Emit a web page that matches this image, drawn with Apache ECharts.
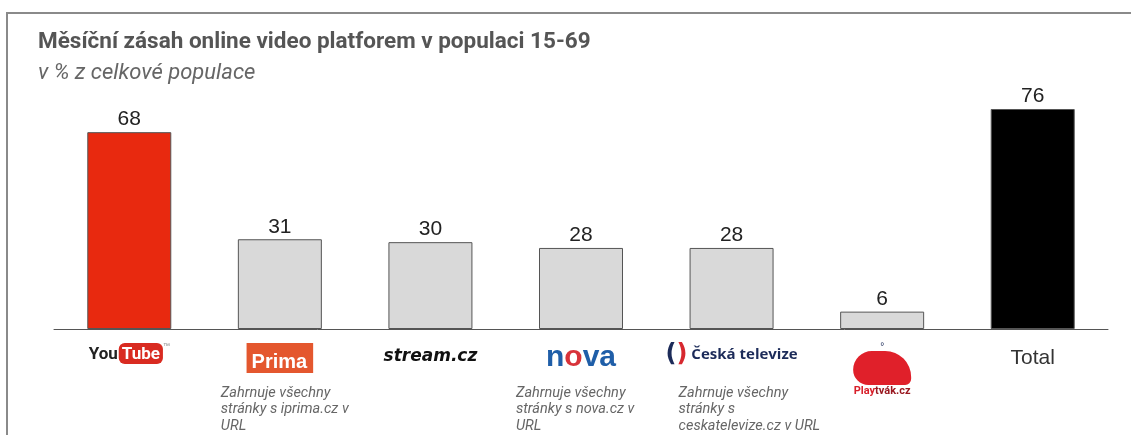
<!DOCTYPE html>
<html>
<head>
<meta charset="utf-8">
<script src="https://cdn.jsdelivr.net/npm/echarts@6/dist/echarts.min.js"></script>
<style>
  html, body { margin: 0; padding: 0; background: #fff; }
  #chart { width: 1131px; height: 435px; }
</style>
</head>
<body>
<div id="chart"></div>
<script>
// monthly reach of online video platforms, % of population 15-69
var categories = ['YouTube', 'Prima', 'stream.cz', 'nova', 'Česká televize', 'Playtvák.cz', 'Total'];
var reach = [68, 31, 30, 28, 28, 6, 76];
var notes = [
    '',
    'Zahrnuje všechny\nstránky s iprima.cz v\nURL',
    '',
    'Zahrnuje všechny\nstránky s nova.cz v\nURL',
    'Zahrnuje všechny\nstránky s\nceskatelevize.cz v URL',
    '',
    ''
];
var barColors = ['#e8290f', '#d9d9d9', '#d9d9d9', '#d9d9d9', '#d9d9d9', '#d9d9d9', '#000000'];
var noteShift = [0, -59, 0, -65, -53, 0, 0];

var chart = echarts.init(document.getElementById('chart'));

function logoLabel(value) {
    switch (value) {
        case 'YouTube': return '{you|You}{tube|Tube}{tm|™}';
        case 'Prima': return '{prima|Prima}';
        case 'stream.cz': return '{stream|stream.cz}';
        case 'nova': return '{nova|n}{ball|o}{nova|va}';
        case 'Česká televize': return '{ctl|(}{ctr|)}{ct| Česká televize}';
        case 'Playtvák.cz': return '{spout|°}\n{whale| }\n{play|Play}{tvak|tvák.cz}';
        default: return '{total|' + value + '}';
    }
}

var option = {
    animation: false,
    title: {
        text: 'Měsíční zásah online video platforem v populaci 15-69',
        subtext: 'v % z celkové populace',
        left: 33,
        top: 26,
        itemGap: 8,
        textStyle: {
            fontFamily: 'Roboto',
            fontWeight: 'bold',
            fontSize: 22.5,
            color: '#555'
        },
        subtextStyle: {
            fontFamily: 'Roboto',
            fontStyle: 'italic',
            fontSize: 22,
            color: '#666'
        }
    },
    grid: {
        left: 54,
        right: 23,
        top: 109,
        bottom: 106
    },
    xAxis: {
        type: 'category',
        data: categories,
        axisLine: { lineStyle: { color: '#555', width: 1 } },
        axisTick: { show: false },
        axisLabel: {
            interval: 0,
            margin: 14,
            verticalAlign: 'top',
            formatter: logoLabel,
            rich: {
                you: { fontFamily: 'Roboto', fontWeight: 'bold', fontSize: 17, color: '#222', padding: [3, 1, 0, 0] },
                tube: {
                    fontFamily: 'Roboto', fontWeight: 'bold', fontSize: 17, color: '#fff',
                    backgroundColor: '#d92b21', borderRadius: 6, padding: [3, 3, 1, 3]
                },
                tm: { fontSize: 7, color: '#888', verticalAlign: 'top' },
                prima: {
                    fontFamily: 'Liberation Sans', fontWeight: 'bold', fontSize: 20, color: '#fff',
                    backgroundColor: '#e4572e', padding: [9, 6, 1, 5]
                },
                stream: { fontFamily: 'DejaVu Sans', fontWeight: 'bold', fontStyle: 'italic', fontSize: 17, color: '#111', padding: [5, 0, 0, 0] },
                nova: { fontFamily: 'Liberation Sans', fontWeight: 'bold', fontSize: 30, color: '#1f5ea8' },
                ball: { fontFamily: 'Liberation Sans', fontWeight: 'bold', fontSize: 30, color: '#d8333a' },
                ctl: { fontFamily: 'DejaVu Sans', fontWeight: 'bold', fontSize: 24, color: '#1c2b59' },
                ctr: { fontFamily: 'DejaVu Sans', fontWeight: 'bold', fontSize: 24, color: '#d7282f' },
                ct: { fontFamily: 'Open Sans', fontWeight: 'bold', fontSize: 15, color: '#1c2b59' },
                spout: { fontSize: 10, color: '#1c2b59', lineHeight: 8 },
                whale: {
                    width: 58, height: 34, backgroundColor: '#e0202a',
                    borderRadius: [22, 26, 6, 18]
                },
                play: { fontFamily: 'Roboto', fontWeight: 'bold', fontSize: 11, color: '#d81f2a', padding: [1, 0, 0, 0] },
                tvak: { fontFamily: 'Roboto', fontWeight: 'bold', fontSize: 11, color: '#9a1a22', padding: [1, 0, 0, 0] },
                total: { fontFamily: 'Liberation Sans', fontSize: 21, color: '#333', padding: [5, 0, 0, 0] }
            }
        }
    },
    yAxis: {
        type: 'value',
        min: 0,
        max: 76,
        show: false,
        splitLine: { show: false }
    },
    series: [{
        type: 'bar',
        barWidth: 84,
        data: reach.map(function (v, i) {
            return {
                value: v,
                itemStyle: { color: barColors[i] }
            };
        }),
        itemStyle: { borderColor: '#555', borderWidth: 1 },
        label: {
            show: true,
            position: 'top',
            distance: 2,
            fontFamily: 'Liberation Sans',
            fontSize: 21,
            color: '#222'
        }
    }],
    graphic: [{
        type: 'rect',
        z: -10,
        shape: { x: 7, y: 13, width: 1200, height: 500 },
        style: { fill: 'none', stroke: '#8a8a8a', lineWidth: 2 }
    }]
};

chart.setOption(option);

// explanatory notes under some of the logos
var noteElements = [];
notes.forEach(function (txt, i) {
    if (!txt) return;
    var cx = chart.convertToPixel({ xAxisIndex: 0 }, categories[i]);
    noteElements.push({
        type: 'text',
        x: cx + noteShift[i],
        y: 385,
        style: {
            text: txt,
            fontFamily: 'Roboto',
            fontStyle: 'italic',
            fontSize: 14.5,
            lineHeight: 16.5,
            fill: '#666'
        }
    });
});
chart.setOption({ graphic: option.graphic.concat(noteElements) });
</script>
</body>
</html>
